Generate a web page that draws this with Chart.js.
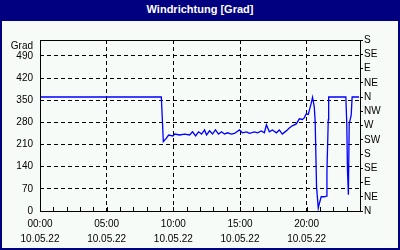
<!DOCTYPE html>
<html>
<head>
<meta charset="utf-8">
<script src="https://cdn.jsdelivr.net/npm/chart.js@4/dist/chart.umd.min.js"></script>
<style>
  html, body { margin: 0; padding: 0; background: #ffffff; }
  .frame {
    width: 400px; height: 250px; box-sizing: border-box;
    border: 2px solid #000080; border-top: none;
    background: #f7fbf7; position: relative;
  }
  .head {
    height: 21px; margin: 0 -2px; background: #000080; color: #ffffff;
    font: bold 11px "Liberation Sans", sans-serif; text-align: center; line-height: 19px;
  }
  .box { width: 396px; height: 227px; }
</style>
</head>
<body>
<div class="frame">
  <div class="head">Windrichtung [Grad]</div>
  <div class="box"><canvas id="chartWind"></canvas></div>
</div>
<script>
// Stunden seit 00:00 (10.05.22)
const hours = [0, 9.10, 9.25, 9.48, 9.65, 9.97, 10.10, 10.47, 10.85, 11.22, 11.44, 11.67, 11.89, 12.12, 12.34,
  12.49, 12.72, 12.94, 13.16, 13.39, 13.61, 13.84, 14.06, 14.36, 14.58, 14.96, 15.18, 15.48, 15.71, 16.09,
  16.31, 16.60, 16.83, 16.98, 17.20, 17.43, 17.73, 17.95, 18.17, 18.47, 18.70, 18.92, 19.22, 19.45, 19.67,
  19.82, 19.97, 20.12, 20.19, 20.34, 20.44, 20.49, 20.57, 20.64, 20.74, 20.87, 20.94, 21.09, 21.32, 21.47,
  21.52, 21.62, 21.65, 22.94, 23.01, 23.06, 23.13, 23.19, 23.34, 23.41, 23.93];
// Windrichtung in Grad
const degrees = [360, 360, 219, 230, 240, 237, 243, 240, 243, 240, 250, 237, 250, 243, 256,
  240, 253, 243, 256, 243, 250, 243, 247, 243, 245, 256, 247, 250, 245, 250,
  247, 253, 247, 272, 250, 256, 247, 256, 243, 253, 262, 269, 275, 291, 289,
  294, 307, 305, 316, 340, 359, 348, 329, 281, 77, 9, 22, 45, 45, 47,
  124, 288, 360, 360, 272, 130, 51, 275, 303, 360, 360];
const xLabels = ['00:00', '05:00', '10:00', '15:00', '20:00'];
const dateLabel = '10.05.22';
const compass = ['N', 'NE', 'E', 'SE', 'S', 'SW', 'W', 'NW', 'N', 'NE', 'E', 'SE', 'S'];
const yLabel = 'Grad';

const points = hours.map((h, i) => ({x: h, y: degrees[i]}));

const frameLines = {
  id: 'frameLines',
  beforeDatasetsDraw(chart){
    const {ctx, chartArea: a, scales} = chart;
    ctx.save();
    ctx.strokeStyle = '#000';
    ctx.lineWidth = 1;
    // kleine Stundenstriche innen an der x-Achse
    for (let h = 1; h < 24; h++) {
      const x = Math.round(scales.x.getPixelForValue(h)) + 0.5;
      ctx.beginPath();
      ctx.moveTo(x, a.bottom);
      ctx.lineTo(x, a.bottom - 4);
      ctx.stroke();
    }
    ctx.restore();
  },
  afterDraw(chart){
    const {ctx, chartArea: a} = chart;
    ctx.save();
    ctx.strokeStyle = '#000';
    ctx.lineWidth = 1;
    ctx.setLineDash([]);
    ctx.strokeRect(Math.round(a.left) + 0.5, Math.round(a.top) + 0.5,
      Math.round(a.right - a.left), Math.round(a.bottom - a.top));
    ctx.fillStyle = '#000';
    ctx.font = '10px "Liberation Sans", sans-serif';
    ctx.textAlign = 'right';
    ctx.textBaseline = 'middle';
    ctx.fillText(yLabel, a.left - 7, a.top + 6);
    ctx.restore();
  }
};

const ctx = document.getElementById('chartWind');
const myChart = new Chart(ctx, {
  type: 'line',
  data: {
    datasets: [{
      data: points,
      borderColor: '#0000ff',
      borderWidth: 1.3,
      pointRadius: 0,
      tension: 0,
      fill: false
    }]
  },
  options: {
    responsive: true,
    maintainAspectRatio: false,
    animation: false,
    layout: { padding: { top: 19, left: 0, right: 0, bottom: 0 } },
    plugins: { legend: { display: false }, tooltip: { enabled: false } },
    scales: {
      x: {
        type: 'linear',
        min: 0,
        max: 24,
        afterFit(scale){ scale.height = 37; },
        border: { display: false, dash: [4, 3] },
        grid: {
          drawTicks: false,
          color: (c) => (c.tick && c.tick.value % 5 === 0 && c.tick.value > 0 && c.tick.value < 24) ? '#000' : 'transparent'
        },
        ticks: {
          stepSize: 1,
          autoSkip: false,
          maxRotation: 0,
          minRotation: 0,
          padding: 6,
          color: '#000',
          font: { family: 'Liberation Sans', size: 10, lineHeight: 1.5 },
          callback: (v) => (v % 5 === 0 && v < 24) ? [xLabels[v / 5], dateLabel] : ''
        }
      },
      y: {
        position: 'left',
        min: 0,
        max: 540,
        afterFit(scale){ scale.width = 38; },
        afterBuildTicks(scale){ scale.ticks = scale.ticks.filter(t => t.value <= 490); },
        border: { display: false, dash: [4, 3] },
        grid: {
          drawTicks: false,
          color: (c) => (c.tick && c.tick.value > 0) ? '#000' : 'transparent'
        },
        ticks: {
          stepSize: 70,
          padding: 7,
          color: '#000',
          font: { family: 'Liberation Sans', size: 10 }
        }
      },
      y2: {
        position: 'right',
        min: 0,
        max: 540,
        afterFit(scale){ scale.width = 38; },
        border: { display: false },
        grid: {
          drawOnChartArea: false,
          drawTicks: true,
          tickLength: 3,
          color: '#000'
        },
        ticks: {
          stepSize: 45,
          autoSkip: false,
          padding: 1,
          color: '#000',
          font: { family: 'Liberation Sans', size: 10 },
          callback: (v) => compass[Math.round(v / 45)]
        }
      }
    }
  },
  plugins: [frameLines]
});
</script>
</body>
</html>
